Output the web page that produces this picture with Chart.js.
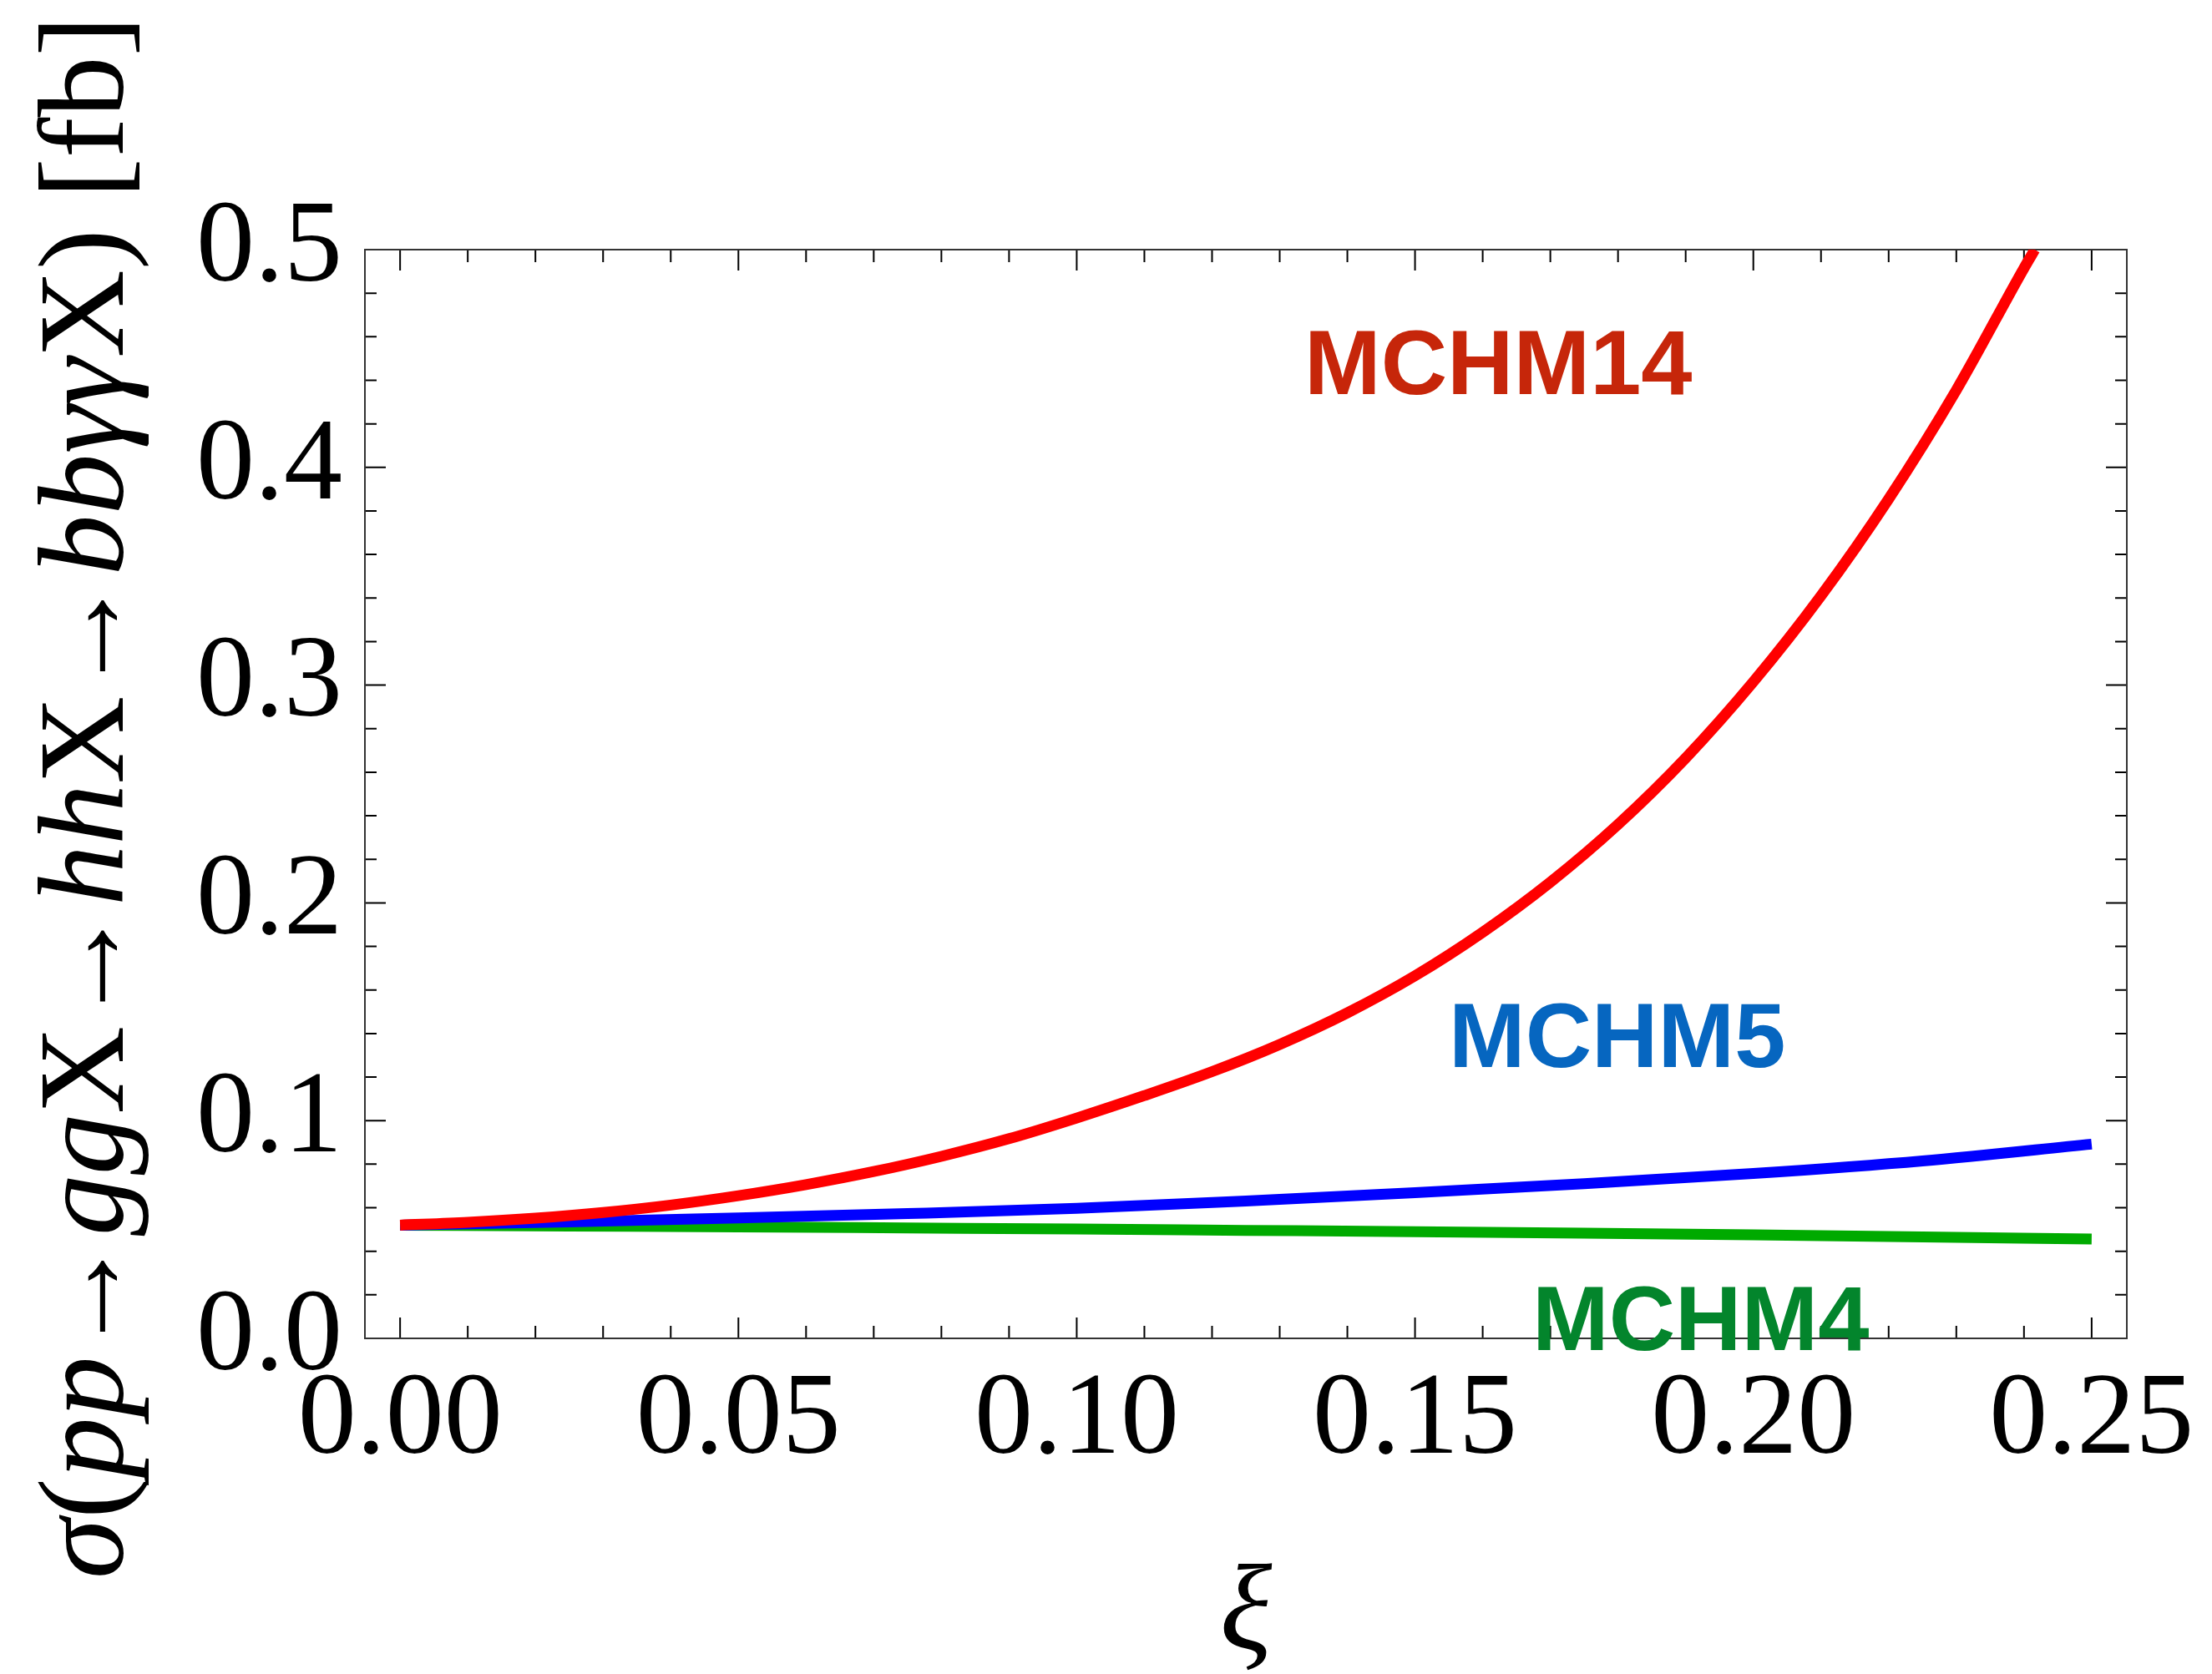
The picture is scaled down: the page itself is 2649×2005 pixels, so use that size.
<!DOCTYPE html>
<html><head><meta charset="utf-8">
<script src="https://cdn.jsdelivr.net/npm/chart.js@4.4.1/dist/chart.umd.min.js"></script>
<style>html,body{margin:0;padding:0;background:#fff;}#wrap{width:2649px;height:2005px;}</style>
</head><body><div id="wrap"><canvas id="c" width="2649" height="2005"></canvas></div>
<script>
// ---- data ----
const xiRed = [0,0.01,0.02,0.03,0.04,0.05,0.06,0.07,0.08,0.09,0.10,0.11,0.12,0.13,0.14,0.15,0.16,0.17,0.18,0.19,0.20,0.21,0.22,0.23,0.24,0.2416];
const sigmaRed = [0.052,0.0533,0.0552,0.0578,0.0612,0.0655,0.0706,0.0766,0.0836,0.0917,0.1012,0.1115,0.1225,0.135,0.1495,0.1665,0.1865,0.2095,0.236,0.2665,0.3015,0.341,0.3855,0.4355,0.4915,0.500];
const xiBlue = [0,0.025,0.05,0.075,0.10,0.125,0.15,0.175,0.20,0.225,0.25];
const sigmaBlue = [0.052,0.0535,0.0553,0.0573,0.0597,0.0631,0.0669,0.0710,0.0757,0.0815,0.0892];
const xiGreen = [0,0.025,0.05,0.075,0.10,0.125,0.15,0.175,0.20,0.225,0.25];
const sigmaGreen = [0.0520,0.0516,0.0512,0.0507,0.0502,0.0496,0.0490,0.0483,0.0475,0.0466,0.0456];
const seriesNames = ['MCHM14','MCHM5','MCHM4'];
const xTickValues = [0,0.05,0.10,0.15,0.20,0.25];
const yTickValues = [0,0.1,0.2,0.3,0.4,0.5];

const SERIF = '"Liberation Serif","Times New Roman",serif';
const SANS = '"Liberation Sans",Arial,sans-serif';

const frameTicks = {
  id:'frameTicks',
  beforeDatasetsDraw(chart){
    const {ctx, chartArea:a, scales:{x,y}} = chart;
    ctx.save();
    ctx.strokeStyle='#000'; ctx.lineWidth=2;
    ctx.beginPath();
    for(let i=0;i<=25;i++){
      const px = x.getPixelForValue(i*0.01); const L = i%5===0?25:15;
      ctx.moveTo(px,a.bottom); ctx.lineTo(px,a.bottom-L);
      ctx.moveTo(px,a.top); ctx.lineTo(px,a.top+L);
    }
    for(let i=0;i<=25;i++){
      const py = y.getPixelForValue(i*0.02); const L = i%5===0?25:14;
      ctx.moveTo(a.left,py); ctx.lineTo(a.left+L,py);
      ctx.moveTo(a.right,py); ctx.lineTo(a.right-L,py);
    }
    ctx.stroke();
    ctx.strokeStyle='#333'; ctx.lineWidth=2;
    ctx.strokeRect(a.left,a.top,a.right-a.left,a.bottom-a.top);
    ctx.restore();
  }
};

const annotations = {
  id:'annotations',
  afterDraw(chart){
    const {ctx, chartArea:a} = chart;
    ctx.save();
    ctx.font = 'bold 110px '+SANS;
    ctx.textAlign='left'; ctx.textBaseline='alphabetic';
    ctx.fillStyle='rgb(198,38,10)'; ctx.fillText(seriesNames[0],1562,472);
    ctx.fillStyle='rgb(6,102,192)'; ctx.fillText(seriesNames[1],1735,1278);
    ctx.fillStyle='rgb(3,133,44)'; ctx.fillText(seriesNames[2],1835,1617);
    ctx.fillStyle='#000';
    ctx.font = 'italic 146px '+SERIF;
    ctx.textAlign='center';
    ctx.fillText('\u03BE',(a.left+a.right)/2,1975);
    const segs = [
      ['\u03C3',1],['(',0],['pp',1],['\u2192',2],['gg',1],['X',0],['\u2192',2],['hh',1],['X',0],['\u2192',2],['bb\u03B3\u03B3',1],['X',0],[')',0],[' [fb]',0]
    ];
    const fI = 'italic 146px '+SERIF, fR = '146px '+SERIF;
    const target = 1872;
    let w0=0, arrowW=0;
    ctx.textAlign='left';
    segs.forEach(s=>{ ctx.font = s[1]===1?fI:fR; const w=ctx.measureText(s[0]).width; if(s[1]===2){arrowW=w;} else w0+=w; });
    let aw = (target - w0)/3; let sx = Math.max(0.4,Math.min(1.3, aw/arrowW)); aw = arrowW*sx;
    const total = w0 + 3*aw;
    ctx.translate(147,955); ctx.rotate(-Math.PI/2);
    let pos = -total/2;
    segs.forEach(s=>{
      ctx.font = s[1]===1?fI:fR;
      if(s[1]===2){ ctx.save(); ctx.translate(pos,0); ctx.scale(sx,1); ctx.fillText(s[0],0,0); ctx.restore(); pos+=aw; }
      else { ctx.fillText(s[0],pos,0); pos+=ctx.measureText(s[0]).width; }
    });
    ctx.restore();
  }
};

const mk = (xs,ys)=>xs.map((v,i)=>({x:v,y:ys[i]}));
new Chart(document.getElementById('c'),{
  type:'line',
  data:{datasets:[
    {label:seriesNames[0],data:mk(xiRed,sigmaRed),borderColor:'#ff0000',borderWidth:13,pointRadius:0,cubicInterpolationMode:'monotone',fill:false},
    {label:seriesNames[1],data:mk(xiBlue,sigmaBlue),borderColor:'#0000ff',borderWidth:13,pointRadius:0,cubicInterpolationMode:'monotone',fill:false},
    {label:seriesNames[2],data:mk(xiGreen,sigmaGreen),borderColor:'#00aa00',borderWidth:13,pointRadius:0,cubicInterpolationMode:'monotone',fill:false}
  ]},
  options:{
    responsive:false, devicePixelRatio:1, animation:false,
    layout:{padding:{top:299,right:102,left:0,bottom:0}},
    plugins:{legend:{display:false},tooltip:{enabled:false}},
    scales:{
      x:{type:'linear',min:-0.0052,max:0.2552,
        afterFit:s=>{s.height=402;},
        afterBuildTicks:s=>{s.ticks=xTickValues.map(v=>({value:v}));},
        grid:{display:false,drawTicks:false},border:{display:false},
        ticks:{font:{family:SERIF,size:140},color:'#000',padding:16,maxRotation:0,autoSkip:false,callback:v=>Number(v).toFixed(2)}},
      y:{type:'linear',min:0,max:0.5,
        afterFit:s=>{s.width=437;},
        afterBuildTicks:s=>{s.ticks=yTickValues.map(v=>({value:v}));},
        grid:{display:false,drawTicks:false},border:{display:false},
        ticks:{font:{family:SERIF,size:140},color:'#000',padding:27,autoSkip:false,callback:v=>Number(v).toFixed(1)}}
    }
  },
  plugins:[frameTicks,annotations]
});
</script></body></html>
